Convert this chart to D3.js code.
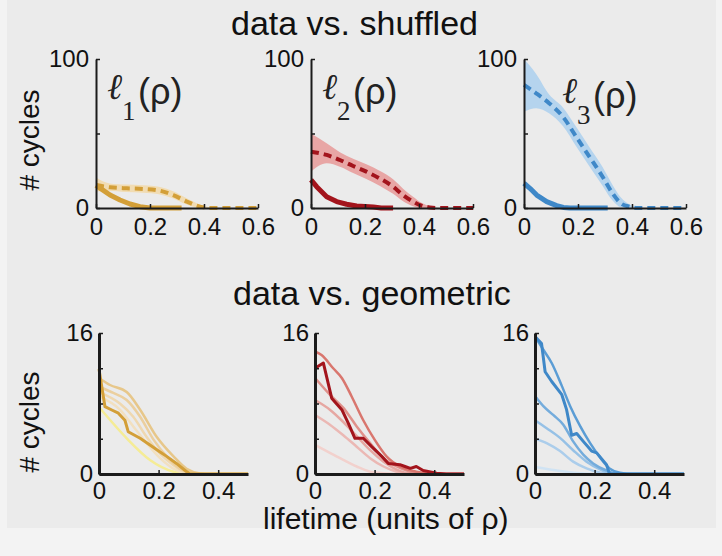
<!DOCTYPE html>
<html><head><meta charset="utf-8">
<script src="https://cdn.jsdelivr.net/npm/d3@7"></script>
<style>html,body{margin:0;padding:0;background:#f3f3f3;} svg{display:block;}</style>
</head><body><svg id="c" width="722" height="556"></svg>
<script>
// ---------- data ----------
const topXTicks = [0, 0.2, 0.4, 0.6];
const topYTicks = [0, 50, 100];
const topYLabels = [0, 100];
const botXTicks = [0, 0.2, 0.4];
const botYTicks = [0, 4, 8, 12, 16];
const botYLabels = [0, 16];

const titles = ["data vs. shuffled", "data vs. geometric"];
const yLabel = "# cycles";
const xLabel = "lifetime (units of ρ)";
const subscripts = ["1", "2", "3"];

// top row: data (solid), shuffled mean (dashed), shuffled band [x, lo, hi]
const l1Data = [[0,15.2],[0.052,8.7],[0.089,5.4],[0.126,2.7],[0.163,0.9],[0.2,0],[0.317,0]];
const l1ShufMean = [[0,15.4],[0.052,13.9],[0.114,13.2],[0.175,12.8],[0.237,11.6],[0.286,8.7],[0.336,4.3],[0.385,0.9],[0.42,0],[0.6,0]];
const l1ShufBand = [[0,11,20.5],[0.05,11.5,16.5],[0.11,10.7,15.7],[0.175,10.3,15.3],[0.237,9.1,14.1],[0.286,6.4,11.2],[0.336,2.3,6.5],[0.385,0,2.3],[0.42,0,0.5],[0.45,0,0]];

const l2Data = [[0,18.8],[0.021,14.3],[0.058,7.6],[0.095,4.3],[0.132,2.5],[0.169,1.3],[0.231,0.7],[0.26,0],[0.304,0]];
const l2ShufMean = [[0,37.8],[0.058,35.6],[0.107,32.2],[0.156,28.2],[0.205,24.4],[0.254,19.9],[0.304,14.3],[0.341,8.7],[0.378,4.3],[0.409,1.6],[0.44,0.4],[0.47,0],[0.6,0]];
const l2ShufBand = [[0,24.4,50],[0.058,30,43.4],[0.107,27.7,37.5],[0.156,23.5,33],[0.205,19.5,29.3],[0.254,15,25],[0.304,9.5,19.3],[0.341,4.5,13],[0.378,1.2,7.5],[0.409,0,3.5],[0.44,0,1.2],[0.47,0,0]];

const l3Data = [[0,16.6],[0.022,13.2],[0.047,8.7],[0.084,4.3],[0.121,1.6],[0.146,0.4],[0.17,0],[0.31,0]];
const l3ShufMean = [[0,82.6],[0.045,77],[0.094,70.2],[0.144,61.3],[0.193,47.9],[0.242,34.5],[0.291,21],[0.328,9.8],[0.359,3.1],[0.39,0.9],[0.42,0],[0.6,0]];
const l3ShufBand = [[0,64.7,100],[0.045,67,90],[0.094,63.5,76],[0.144,55,67.5],[0.193,41.5,54.5],[0.242,28,41],[0.291,15,27.5],[0.328,5,15.5],[0.359,0.5,7],[0.39,0,2.5],[0.42,0,0.5],[0.45,0,0]];

// bottom row: data (dark) and geometric models (darkest -> lightest)
const g1Data = [[0,11.9],[0.02,7.64],[0.043,7.26],[0.065,6.9],[0.087,6.1],[0.098,4.8],[0.138,4.05],[0.171,3.3],[0.205,2.5],[0.227,2.0],[0.26,1.2],[0.289,0.4],[0.305,0],[0.5,0]];
const g1Models = [
  [[0,10.9],[0.037,10.1],[0.093,9.3],[0.138,7.3],[0.194,4.2],[0.25,2.0],[0.294,0.6],[0.339,0.07],[0.37,0],[0.5,0]],
  [[0,9.9],[0.048,9.2],[0.093,8.4],[0.138,6.5],[0.183,3.9],[0.227,2.0],[0.272,0.6],[0.317,0.07],[0.35,0],[0.5,0]],
  [[0,9.3],[0.07,8.0],[0.115,6.5],[0.16,4.2],[0.205,2.3],[0.25,1.0],[0.294,0.15],[0.33,0],[0.5,0]],
  [[0,8.8],[0.07,7.3],[0.115,5.4],[0.16,3.5],[0.205,1.8],[0.25,0.6],[0.294,0.07],[0.33,0],[0.5,0]],
  [[0,7.6],[0.093,4.05],[0.171,1.6],[0.25,0.26],[0.294,0],[0.5,0]]
];
const g2Data = [[0,12.0],[0.028,12.6],[0.056,8.6],[0.09,7.3],[0.112,5.75],[0.134,4.05],[0.162,4.05],[0.19,3.1],[0.224,2.0],[0.246,1.2],[0.285,1.06],[0.302,0.85],[0.32,0.64],[0.34,0.85],[0.363,0.4],[0.408,0.08],[0.44,0],[0.5,0]];
const g2Models = [
  [[0,13.9],[0.022,13.5],[0.061,12.0],[0.09,10.9],[0.123,8.8],[0.162,6.1],[0.2,3.9],[0.24,2.0],[0.285,0.85],[0.34,0.26],[0.41,0],[0.5,0]],
  [[0,10.9],[0.05,9.0],[0.095,7.5],[0.14,5.4],[0.185,3.5],[0.23,1.8],[0.274,0.85],[0.32,0.26],[0.37,0],[0.5,0]],
  [[0,8.4],[0.05,7.3],[0.095,5.9],[0.14,4.3],[0.185,2.7],[0.23,1.4],[0.274,0.5],[0.32,0.05],[0.36,0],[0.5,0]],
  [[0,6.7],[0.05,5.6],[0.095,4.4],[0.14,3.1],[0.185,1.8],[0.23,0.85],[0.274,0.26],[0.32,0],[0.5,0]],
  [[0,3.3],[0.05,2.4],[0.095,1.6],[0.14,0.85],[0.185,0.26],[0.23,0.08],[0.28,0],[0.5,0]]
];
const g3Data = [[0,15.6],[0.022,14.8],[0.034,11.6],[0.056,10.5],[0.09,9.0],[0.106,7.3],[0.123,4.4],[0.14,4.6],[0.162,3.7],[0.19,2.6],[0.207,2.4],[0.24,1.06],[0.25,0],[0.5,0]];
const g3Models = [
  [[0,15.6],[0.028,14.1],[0.056,12.6],[0.09,10.0],[0.118,7.7],[0.152,5.4],[0.185,3.5],[0.22,1.8],[0.25,0.64],[0.285,0.15],[0.33,0],[0.5,0]],
  [[0,8.85],[0.028,7.7],[0.061,6.7],[0.095,5.6],[0.128,3.7],[0.162,2.2],[0.195,1.2],[0.24,0.4],[0.28,0],[0.5,0]],
  [[0,6.1],[0.039,5.2],[0.084,4.1],[0.128,2.7],[0.173,1.4],[0.22,0.5],[0.26,0],[0.5,0]],
  [[0,4.05],[0.039,3.5],[0.084,2.6],[0.128,1.4],[0.173,0.64],[0.22,0.15],[0.26,0],[0.5,0]],
  [[0,0.8],[0.084,0.34],[0.15,0.08],[0.2,0],[0.5,0]]
];

// colours
const dataColors = ["#d39f38", "#a3141c", "#3f88c8"];
const bandColors = ["#f1dcb3", "#e8a6a5", "#b5d4ee"];
const modelColors = [
  ["#e7c78a", "#ebcf9e", "#efd8b0", "#f2e0c0", "#f5ec95"],
  ["#d9766e", "#e0918b", "#e6a7a2", "#ebb8b4", "#f2d1cd"],
  ["#5b9dd5", "#74acdc", "#96c1e6", "#abcdeb", "#d0e3f3"]
];

// ---------- drawing ----------
const svg = d3.select("#c");
const FONT = "'Liberation Sans', Arial, Helvetica, sans-serif";
svg.append("rect").attr("x", 7).attr("y", 0).attr("width", 709).attr("height", 528).attr("fill", "#ebebeb");

const topPanels = [
  {x0: 96,  data: l1Data, mean: l1ShufMean, band: l1ShufBand, lx: 12, ly: 0},
  {x0: 311, data: l2Data, mean: l2ShufMean, band: l2ShufBand, lx: 12, ly: 0},
  {x0: 524, data: l3Data, mean: l3ShufMean, band: l3ShufBand, lx: 39, ly: 4}
];
const botPanels = [
  {x0: 99,  data: g1Data, models: g1Models},
  {x0: 315, data: g2Data, models: g2Models},
  {x0: 535, data: g3Data, models: g3Models}
];

function styleAxis(g, w) {
  g.select(".domain").attr("stroke", "#1b1b1b").attr("stroke-width", w);
  g.selectAll(".tick line").attr("stroke", "#1b1b1b").attr("stroke-width", 1.5);
  g.selectAll(".tick text").attr("font-family", FONT).attr("font-size", 24).attr("fill", "#111");
}

// top row
topPanels.forEach((p, i) => {
  const x = d3.scaleLinear().domain([0, 0.6]).range([p.x0, p.x0 + 162]);
  const y = d3.scaleLinear().domain([0, 100]).range([208, 59]);
  const area = d3.area().x(d => x(d[0])).y0(d => y(d[1])).y1(d => y(d[2])).curve(d3.curveMonotoneX);
  const line = d3.line().x(d => x(d[0])).y(d => y(d[1]));
  svg.append("path").attr("d", area(p.band)).attr("fill", bandColors[i]);
  svg.append("path").attr("d", line.curve(d3.curveMonotoneX)(p.mean)).attr("fill", "none")
    .attr("stroke", dataColors[i]).attr("stroke-width", 4).attr("stroke-dasharray", "8,5");
  svg.append("path").attr("d", line.curve(d3.curveLinear)(p.data)).attr("fill", "none")
    .attr("stroke", dataColors[i]).attr("stroke-width", 5).attr("stroke-linejoin", "round");

  const gx = svg.append("g").attr("transform", "translate(0,208)")
    .call(d3.axisBottom(x).tickValues(topXTicks).tickSize(-4).tickSizeOuter(0).tickPadding(10).tickFormat(d3.format("")));
  styleAxis(gx, 2);
  const gy = svg.append("g").attr("transform", `translate(${p.x0},0)`)
    .call(d3.axisLeft(y).tickValues(topYTicks).tickSize(-4).tickSizeOuter(0).tickPadding(7)
      .tickFormat(d => topYLabels.includes(d) ? d : ""));
  styleAxis(gy, 2);

  // ℓ_i(ρ) label
  const lb = svg.append("g").attr("transform", `translate(${p.x0 + p.lx},${p.ly})`);
  lb.append("text").attr("x", -1).attr("y", 99).attr("font-family", "'DejaVu Serif', serif")
    .attr("font-style", "italic").attr("font-size", 36).attr("fill", "#222").text("ℓ");
  lb.append("text").attr("x", 14).attr("y", 120).attr("font-family", "'Liberation Serif', 'Times New Roman', serif")
    .attr("font-size", 27).attr("fill", "#222").text(subscripts[i]);
  lb.append("text").attr("x", 30).attr("y", 104).attr("font-family", FONT)
    .attr("font-size", 36).attr("fill", "#222").text("(ρ)");
});

// bottom row
botPanels.forEach((p, i) => {
  const x = d3.scaleLinear().domain([0, 0.5]).range([p.x0, p.x0 + 149]);
  const y = d3.scaleLinear().domain([0, 16]).range([474, 333]);
  const smooth = d3.line().x(d => x(d[0])).y(d => y(d[1])).curve(d3.curveMonotoneX);
  const lin = d3.line().x(d => x(d[0])).y(d => y(d[1]));
  p.models.slice().reverse().forEach((m, k) => {
    const idx = p.models.length - 1 - k;
    svg.append("path").attr("d", smooth(m)).attr("fill", "none")
      .attr("stroke", modelColors[i][idx]).attr("stroke-width", 2.5);
  });
  svg.append("path").attr("d", lin(p.data)).attr("fill", "none")
    .attr("stroke", dataColors[i]).attr("stroke-width", 3).attr("stroke-linejoin", "round");

  const gx = svg.append("g").attr("transform", "translate(0,474)")
    .call(d3.axisBottom(x).tickValues(botXTicks).tickSize(-4).tickSizeOuter(0).tickPadding(8).tickFormat(d3.format("")));
  styleAxis(gx, 3);
  const gy = svg.append("g").attr("transform", `translate(${p.x0},0)`)
    .call(d3.axisLeft(y).tickValues(botYTicks).tickSize(-4).tickSizeOuter(0).tickPadding(6)
      .tickFormat(d => botYLabels.includes(d) ? d : ""));
  styleAxis(gy, 3);
});

// titles & labels
svg.append("text").attr("x", 231).attr("y", 35).attr("font-family", FONT).attr("font-size", 34)
  .attr("fill", "#111").text(titles[0]);
svg.append("text").attr("x", 233).attr("y", 305).attr("font-family", FONT).attr("font-size", 34)
  .attr("fill", "#111").text(titles[1]);
svg.append("text").attr("x", 263).attr("y", 529).attr("font-family", FONT).attr("font-size", 30)
  .attr("fill", "#111").text(xLabel);
[140, 422].forEach(cy => {
  svg.append("text").attr("transform", `translate(38.5,${cy}) rotate(-90)`).attr("text-anchor", "middle")
    .attr("font-family", FONT).attr("font-size", 28).attr("fill", "#111").text(yLabel);
});
</script></body></html>
